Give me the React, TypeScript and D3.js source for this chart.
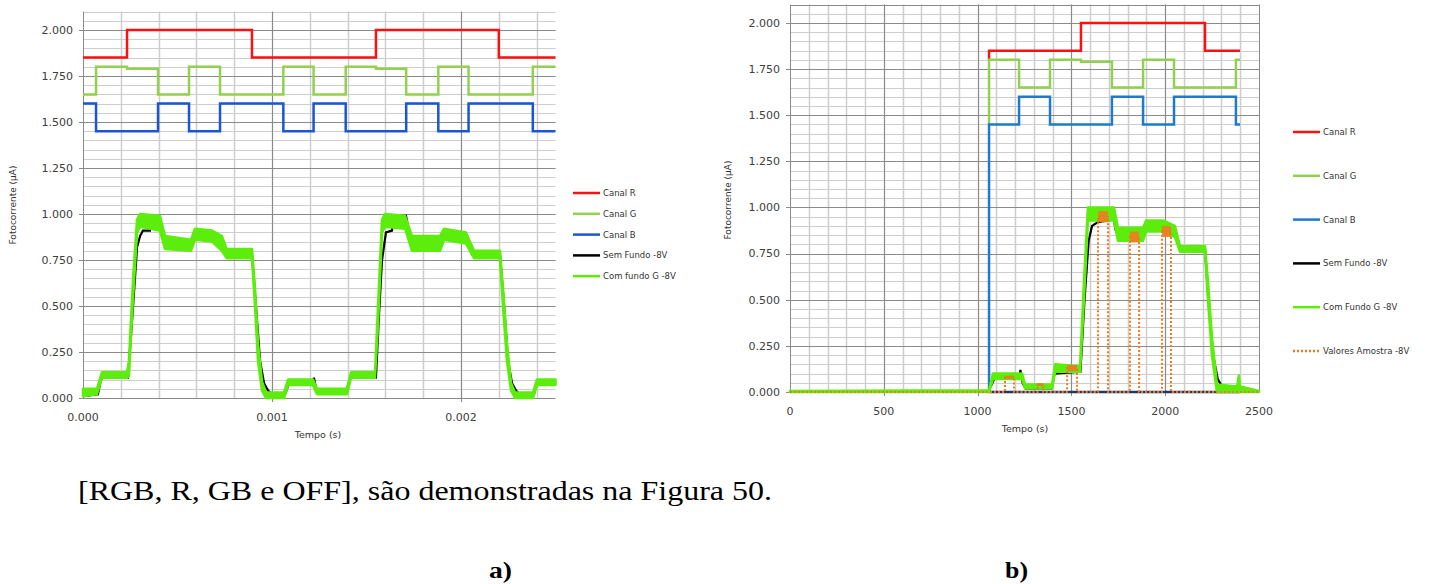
import * as d3 from "d3";

// ---------- data ----------
const Y_TICKS = [0, 0.25, 0.5, 0.75, 1, 1.25, 1.5, 1.75, 2];
const A_X_TICKS = [0, 0.001, 0.002];
const B_X_TICKS = [0, 500, 1000, 1500, 2000, 2500];

const A_LEGEND = ["Canal R", "Canal G", "Canal B", "Sem Fundo -8V", "Com fundo G -8V"];
const B_LEGEND = ["Canal R", "Canal G", "Canal B", "Sem Fundo -8V", "Com Fundo G -8V", "Valores Amostra -8V"];

// panel a) time in seconds, [switch time, level]
const A_R: [number, number][] = [[0, 1.85], [0.000233, 2.0], [0.000894, 1.85], [0.00155, 2.0], [0.0022, 1.85], [0.0025, 1.85]];
const A_G: [number, number][] = [
  [0, 1.65], [0.000069, 1.8], [0.000233, 1.79], [0.000397, 1.65], [0.000561, 1.8], [0.000725, 1.65],
  [0.00106, 1.8], [0.00122, 1.65], [0.00139, 1.8], [0.00155, 1.79], [0.00171, 1.65], [0.00188, 1.8],
  [0.00204, 1.65], [0.00238, 1.8], [0.0025, 1.8],
];
const A_B: [number, number][] = [
  [0, 1.6], [0.000069, 1.45], [0.000397, 1.6], [0.000561, 1.45], [0.000725, 1.6], [0.00106, 1.45],
  [0.00122, 1.6], [0.00139, 1.45], [0.00171, 1.6], [0.00188, 1.45], [0.00204, 1.6], [0.00238, 1.45],
  [0.0025, 1.45],
];
// [t, low, high] of the noisy green trace
const A_GREEN: [number, number, number][] = [
  [0, 0.01, 0.05], [0.000074, 0.02, 0.05], [0.0001, 0.11, 0.14], [0.000233, 0.11, 0.14],
  [0.000243, 0.12, 0.2], [0.000265, 0.55, 0.65], [0.000286, 0.9, 0.97], [0.000302, 0.93, 1.0],
  [0.000407, 0.91, 0.99], [0.000434, 0.81, 0.88], [0.000571, 0.8, 0.86], [0.000593, 0.86, 0.92],
  [0.000683, 0.85, 0.91], [0.000735, 0.8, 0.88], [0.00076, 0.76, 0.81], [0.000894, 0.76, 0.81],
  [0.00091, 0.5, 0.6], [0.000926, 0.2, 0.3], [0.000947, 0.04, 0.09], [0.000968, 0.0, 0.03],
  [0.001063, 0.0, 0.03], [0.001085, 0.07, 0.1], [0.001217, 0.07, 0.1], [0.001238, 0.02, 0.05],
  [0.001397, 0.02, 0.05], [0.001418, 0.11, 0.14], [0.001545, 0.11, 0.14], [0.001561, 0.4, 0.5],
  [0.001582, 0.9, 0.97], [0.001598, 0.93, 1.0], [0.001704, 0.92, 0.99], [0.001741, 0.8, 0.88],
  [0.001889, 0.8, 0.88], [0.00191, 0.86, 0.92], [0.002026, 0.84, 0.9], [0.002069, 0.76, 0.8],
  [0.002206, 0.76, 0.8], [0.002222, 0.5, 0.6], [0.002243, 0.2, 0.3], [0.002265, 0.04, 0.08],
  [0.002286, 0.0, 0.03], [0.002381, 0.0, 0.03], [0.002402, 0.07, 0.1], [0.0025, 0.07, 0.1],
];
const A_BLACK: [number, number][] = [
  [0, 0.01], [0.000079, 0.02], [0.000095, 0.1], [0.000106, 0.11], [0.000238, 0.11], [0.000265, 0.5],
  [0.000286, 0.82], [0.000302, 0.88], [0.000317, 0.91], [0.000354, 0.91], [0.00036, 0.97],
  [0.000407, 0.97], [0.000429, 0.88], [0.000444, 0.85], [0.000571, 0.85], [0.000593, 0.9],
  [0.000672, 0.89], [0.000735, 0.86], [0.000757, 0.78], [0.000894, 0.78], [0.000915, 0.5],
  [0.000937, 0.2], [0.000958, 0.08], [0.000979, 0.04], [0.001, 0.02], [0.001069, 0.02],
  [0.00109, 0.08], [0.001217, 0.09], [0.001222, 0.11], [0.001233, 0.05], [0.001249, 0.03],
  [0.001392, 0.03], [0.001413, 0.11], [0.00155, 0.11], [0.001566, 0.45], [0.001582, 0.75],
  [0.001603, 0.9], [0.001635, 0.91], [0.00164, 0.99], [0.001709, 0.99], [0.00173, 0.88],
  [0.001751, 0.85], [0.001889, 0.85], [0.00191, 0.9], [0.002026, 0.88], [0.002058, 0.78],
  [0.002206, 0.78], [0.002228, 0.5], [0.002249, 0.2], [0.00227, 0.08], [0.002291, 0.04],
  [0.002312, 0.02], [0.002386, 0.02], [0.002402, 0.08], [0.0025, 0.08],
];

// panel b) sample index
const B_R: [number, number][] = [[1061, 1.8], [1061, 1.85], [1551, 2.0], [2212, 1.85], [2399, 1.85]];
const B_G: [number, number][] = [
  [1061, 1.45], [1061, 1.8], [1221, 1.65], [1386, 1.8], [1551, 1.79], [1716, 1.65], [1882, 1.8],
  [2047, 1.65], [2377, 1.8], [2399, 1.8],
];
const B_B: [number, number][] = [
  [1061, 0], [1061, 1.45], [1221, 1.6], [1386, 1.45], [1716, 1.6], [1882, 1.45], [2047, 1.6],
  [2377, 1.45], [2399, 1.45],
];
const B_BASE: [number, number][] = [[1061, 0], [2399, 0]];
const B_GREEN: [number, number, number][] = [
  [0, 0, 0.005], [1061, 0, 0.01], [1082, 0.07, 0.1], [1237, 0.07, 0.1], [1253, 0.02, 0.04],
  [1397, 0.02, 0.04], [1413, 0.11, 0.15], [1546, 0.11, 0.14], [1567, 0.5, 0.6], [1588, 0.93, 1.0],
  [1727, 0.93, 1.0], [1748, 0.82, 0.89], [1882, 0.82, 0.89], [1898, 0.87, 0.93], [1988, 0.87, 0.93],
  [2052, 0.84, 0.9], [2079, 0.76, 0.79], [2212, 0.76, 0.79], [2228, 0.5, 0.6], [2249, 0.2, 0.3],
  [2276, 0.0, 0.04], [2383, 0.0, 0.03], [2393, 0.0, 0.09], [2399, 0.0, 0.03], [2500, 0, 0.005],
];
const B_BLACK: [number, number][] = [
  [0, 0], [1061, 0], [1065, 0.02], [1093, 0.08], [1224, 0.08], [1228, 0.12], [1240, 0.05],
  [1255, 0.02], [1395, 0.02], [1410, 0.1], [1548, 0.11], [1570, 0.5], [1592, 0.82], [1610, 0.9],
  [1640, 0.92], [1700, 0.93], [1716, 1.0], [1735, 0.88], [1882, 0.86], [1898, 0.9], [2050, 0.88],
  [2075, 0.78], [2212, 0.78], [2230, 0.5], [2255, 0.2], [2280, 0.07], [2303, 0.03], [2399, 0.03],
];
// [start, end, value] sample windows
const B_SAMPLES: [number, number, number][] = [
  [1146, 1194, 0.08], [1320, 1350, 0.04], [1477, 1530, 0.13], [1642, 1695, 0.95],
  [1812, 1861, 0.84], [1983, 2031, 0.87],
];

// ---------- styles ----------
const FONT = "DejaVu Sans";
const C_R = "#ff1010";
const C_G = "#92d050";
const C_BA = "#1a56d0";
const C_BB = "#1e7acc";
const C_LIME = "#5ced0c";
const C_ORANGE = "#f07a22";
const MINOR = "#cdcdcd";
const MAJOR = "#8a8a8a";

type Sc = d3.ScaleLinear<number, number>;

function Frame({ xs, ys, xMinor, xMajor, yMinor, xTicks, xFmt, box }: {
  xs: Sc; ys: Sc; xMinor: number[]; xMajor: number[]; yMinor: number[];
  xTicks: number[]; xFmt: (v: number) => string; box: boolean;
}) {
  const [x0, x1] = xs.range();
  const [y0, y1] = ys.range();
  const p = (v: number) => Math.round(v) + 0.5;
  return (
    <g>
      {yMinor.map((v) => (
        <line key={"ym" + v} x1={x0} x2={x1} y1={p(ys(v))} y2={p(ys(v))} stroke={MINOR} strokeWidth={1} />
      ))}
      {xMinor.map((v) => (
        <line key={"xm" + v} x1={p(xs(v))} x2={p(xs(v))} y1={y0} y2={y1} stroke={MINOR} strokeWidth={1.5} />
      ))}
      {Y_TICKS.map((v) => (
        <line key={"yM" + v} x1={x0 - 4} x2={x1} y1={p(ys(v))} y2={p(ys(v))} stroke={MAJOR} strokeWidth={1} />
      ))}
      {xMajor.map((v) => (
        <line key={"xM" + v} x1={p(xs(v))} x2={p(xs(v))} y1={y0 + 4} y2={y1} stroke={MAJOR} strokeWidth={1} />
      ))}
      <line x1={p(x0)} x2={p(x0)} y1={y0} y2={y1} stroke={MAJOR} />
      {box && <line x1={x0} x2={x1} y1={p(y1)} y2={p(y1)} stroke={MAJOR} />}
      {box && <line x1={p(x1)} x2={p(x1)} y1={y0} y2={y1} stroke={MAJOR} />}
      {Y_TICKS.map((v) => (
        <text key={"yl" + v} x={x0 - 10} y={ys(v)} dy="0.35em" textAnchor="end" fontFamily={FONT} fontSize={11} fill="#404040">
          {d3.format(".3f")(v)}
        </text>
      ))}
      {xTicks.map((v) => (
        <text key={"xl" + v} x={xs(v)} y={y0 + 19} dy="0.35em" textAnchor="middle" fontFamily={FONT} fontSize={11} fill="#404040">
          {xFmt(v)}
        </text>
      ))}
    </g>
  );
}

function Legend({ x, y, step, labels, colors, dashed }: {
  x: number; y: number; step: number; labels: string[]; colors: string[]; dashed?: number;
}) {
  return (
    <g>
      {labels.map((l, i) => (
        <g key={l} transform={`translate(${x},${y + i * step})`}>
          <line x1={0} x2={27} y1={0} y2={0} stroke={colors[i]} strokeWidth={2.5}
            strokeDasharray={dashed === i ? "2 2" : undefined} />
          <text x={30} y={0} dy="0.35em" fontFamily={FONT} fontSize={8.5} fill="#333">{l}</text>
        </g>
      ))}
    </g>
  );
}

export default function App() {
  const xa = d3.scaleLinear().domain([0, 0.0025]).range([83, 555.5]);
  const ya = d3.scaleLinear().domain([0, 2.1]).range([398, 11.6]);
  const xb = d3.scaleLinear().domain([0, 2500]).range([790, 1259]);
  const yb = d3.scaleLinear().domain([0, 2.1]).range([392, 4.5]);

  const stepA = d3.line<[number, number]>().x((d) => xa(d[0])).y((d) => ya(d[1])).curve(d3.curveStepAfter);
  const stepB = d3.line<[number, number]>().x((d) => xb(d[0])).y((d) => yb(d[1])).curve(d3.curveStepAfter);
  const lineA = d3.line<[number, number]>().x((d) => xa(d[0])).y((d) => ya(d[1]));
  const lineB = d3.line<[number, number]>().x((d) => xb(d[0])).y((d) => yb(d[1]));
  const bandA = d3.area<[number, number, number]>().x((d) => xa(d[0])).y0((d) => ya(d[1])).y1((d) => ya(d[2]));
  const bandB = d3.area<[number, number, number]>().x((d) => xb(d[0])).y0((d) => yb(d[1])).y1((d) => yb(d[2]));

  const yMinor = d3.range(0, 42).map((i) => +(i * 0.05 + 0.05).toFixed(2)).filter((v) => v <= 2.1);
  const aMinor = d3.range(1, 13).map((i) => i * 0.0002);
  const bMinor = d3.range(1, 25).map((i) => i * 100);

  const samplePts: [number, number][] = [[0, 0]];
  B_SAMPLES.forEach(([s, e, v]) => { samplePts.push([s, 0], [s, v], [e, v], [e, 0]); });
  samplePts.push([2500, 0]);

  const txt = { fontFamily: FONT, fill: "#333" };

  return (
    <svg width={1448} height={584} style={{ position: "absolute", left: 0, top: 0, background: "#fff" }}>
      {/* panel a */}
      <Frame xs={xa} ys={ya} xMinor={aMinor} xMajor={[0.001, 0.002]} yMinor={yMinor}
        xTicks={A_X_TICKS} xFmt={d3.format(".3f")} box={false} />
      <line x1={83} x2={555} y1={398.5} y2={398.5} stroke={MAJOR} />
      <path d={stepA(A_R) ?? ""} fill="none" stroke={C_R} strokeWidth={2.5} />
      <path d={stepA(A_G) ?? ""} fill="none" stroke={C_G} strokeWidth={2.5} />
      <path d={stepA(A_B) ?? ""} fill="none" stroke={C_BA} strokeWidth={2.5} />
      <path d={lineA(A_BLACK) ?? ""} fill="none" stroke="#000" strokeWidth={2.2} />
      <path d={bandA(A_GREEN) ?? ""} fill={C_LIME} stroke={C_LIME} strokeWidth={2.5} strokeLinejoin="round" />
      <text transform="translate(16,205) rotate(-90)" textAnchor="middle" fontSize={9} {...txt}>Fotocorrente (µA)</text>
      <text x={318} y={438} textAnchor="middle" fontSize={9.5} {...txt}>Tempo (s)</text>
      <Legend x={573} y={193} step={20.8} labels={A_LEGEND} colors={[C_R, C_G, C_BA, "#000", C_LIME]} />

      {/* panel b */}
      <Frame xs={xb} ys={yb} xMinor={bMinor} xMajor={[500, 1000, 1500, 2000]} yMinor={yMinor}
        xTicks={B_X_TICKS} xFmt={(v) => String(v)} box={true} />
      <line x1={790} x2={1259} y1={392.5} y2={392.5} stroke={MAJOR} />
      <path d={stepB(B_R) ?? ""} fill="none" stroke={C_R} strokeWidth={2.5} />
      <path d={stepB(B_G) ?? ""} fill="none" stroke={C_G} strokeWidth={2.5} />
      <path d={stepB(B_B) ?? ""} fill="none" stroke={C_BB} strokeWidth={2.5} />
      <path d={lineB(B_BASE) ?? ""} fill="none" stroke="#1f3864" strokeWidth={2.5} />
      <path d={lineB(B_BLACK) ?? ""} fill="none" stroke="#000" strokeWidth={2.2} />
      <path d={bandB(B_GREEN) ?? ""} fill={C_LIME} stroke={C_LIME} strokeWidth={2.5} strokeLinejoin="round" />
      <path d={lineB(samplePts) ?? ""} fill="none" stroke={C_ORANGE} strokeWidth={2} strokeDasharray="2 2" />
      {B_SAMPLES.map(([s, e, v]) => {
        const h = v > 0.5 ? 11 : v > 0.1 ? 6 : 3;
        return (
          <rect key={s} x={xb(s)} y={yb(v) - h / 2} width={xb(e) - xb(s)} height={h} fill={C_ORANGE} opacity={0.9} />
        );
      })}
      <text transform="translate(731,200) rotate(-90)" textAnchor="middle" fontSize={9} {...txt}>Fotocorrente (µA)</text>
      <text x={1025} y={432} textAnchor="middle" fontSize={9.5} {...txt}>Tempo (s)</text>
      <Legend x={1293} y={132} step={43.8} labels={B_LEGEND}
        colors={[C_R, C_G, C_BB, "#000", C_LIME, C_ORANGE]} dashed={5} />

      {/* caption text */}
      <text x={78} y={500} fontFamily="Liberation Serif" fontSize={28} fill="#000"
        textLength={694} lengthAdjust="spacingAndGlyphs">
        [RGB, R, GB e OFF], são demonstradas na Figura 50.
      </text>
      <text x={489} y={578} fontFamily="Liberation Serif" fontWeight="bold" fontSize={24}
        textLength={23} lengthAdjust="spacingAndGlyphs">a)</text>
      <text x={1005} y={578} fontFamily="Liberation Serif" fontWeight="bold" fontSize={24}
        textLength={23} lengthAdjust="spacingAndGlyphs">b)</text>
    </svg>
  );
}
